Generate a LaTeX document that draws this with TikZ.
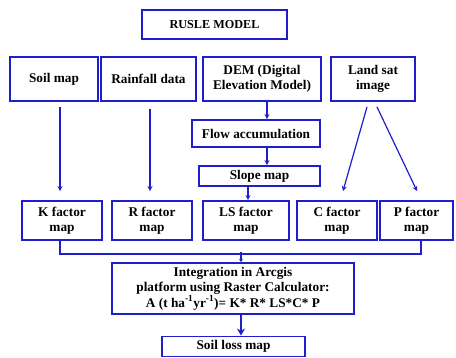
\documentclass[tikz,border=0pt]{standalone}
\usepackage{fontspec}
\setmainfont{Liberation Serif}
\usetikzlibrary{calc,arrows.meta}
\definecolor{bl}{RGB}{30,30,205}
\tikzset{
  bx/.style={draw=bl, line width=1.9pt, inner sep=0pt, align=center,
    font=\fontsize{13.3}{15.5}\selectfont\bfseries, text=black},
  arr/.style={draw=bl, line width=1.2pt, -{Stealth[length=5pt,width=5pt]}},
  ln/.style={draw=bl, line width=1.2pt}
}
\begin{document}
\begin{tikzpicture}[x=1pt,y=-1pt]
\useasboundingbox (0,0) rectangle (456,358);
\node[bx, line width=2.6pt, minimum width=145, minimum height=29, font=\fontsize{12.2}{14}\selectfont\bfseries] (rusle) at (214.5,24.5) {RUSLE MODEL};
\node[bx, minimum width=88, minimum height=44] (soil) at (54,79) {Soil map};
\node[bx, minimum width=95, minimum height=44] (rain) at (148.5,79) {Rainfall data};
\node[bx, minimum width=118, minimum height=44] (dem) at (262,79) {DEM (Digital\\Elevation Model)};
\node[bx, minimum width=84, minimum height=44] (land) at (373,79) {Land sat\\image};
\node[bx, minimum width=128, minimum height=27] (flow) at (256,133.5) {Flow accumulation};
\node[bx, minimum width=121, minimum height=20] (slope) at (259.5,176) {Slope map};
\node[bx, minimum width=80, minimum height=39] (K) at (62,220.5) {K factor\\map};
\node[bx, minimum width=80, minimum height=39] (R) at (152,220.5) {R factor\\map};
\node[bx, minimum width=86, minimum height=39] (LS) at (246,220.5) {LS factor\\map};
\node[bx, minimum width=80, minimum height=39] (C) at (337,220.5) {C factor\\map};
\node[bx, minimum width=73, minimum height=39] (P) at (416.5,220.5) {P factor\\map};
\node[bx, minimum width=242, minimum height=51] (integ) at (233,288.5) {Integration in Arcgis\\platform using Raster Calculator:\\A (t ha\textsuperscript{-1}yr\textsuperscript{-1})= K* R* LS*C* P};
\node[bx, minimum width=143, minimum height=20] (loss) at (233.5,346.5) {Soil loss map};
% arrows
\draw[arr] ($(soil.south)+(6,5)$) -- ($(K.north)+(-2,-9)$);
\draw[arr] ($(rain.south)+(1.5,7)$) -- ($(R.north)+(-2,-9)$);
\draw[arr] ($(dem.south)+(5,0)$) -- ($(flow.north)+(11,0)$);
\draw[arr] ($(flow.south)+(11,0)$) -- ($(slope.north)+(7.5,0)$);
\draw[arr] ($(slope.south)+(-11.5,0)$) -- ($(LS.north)+(2,0)$);
\draw[arr] ($(land.south)+(-6,5)$) -- ($(C.north)+(6,-9)$);
\draw[arr] ($(land.south)+(4,5)$) -- ($(P.north)+(0.5,-9)$);
% bracket
\coordinate (bl) at ($(K.south)+(-2,13)$);
\coordinate (br) at ($(P.south)+(4.5,13)$);
\draw[ln] ($(K.south)+(-2,0)$) -- (bl) -- (br) -- ($(P.south)+(4.5,0)$);
\coordinate (bm) at ($(integ.north)+(8,-10)$);
\draw[draw=bl, line width=1.2pt, -{Stealth[length=3pt,width=4pt]}] (bm) -- ($(integ.north)+(8,0)$);
\draw[arr, -{Stealth[length=7pt,width=8pt]}] ($(integ.south)+(8,0)$) -- ($(loss.north)+(7.5,0)$);
\end{tikzpicture}
\end{document}
